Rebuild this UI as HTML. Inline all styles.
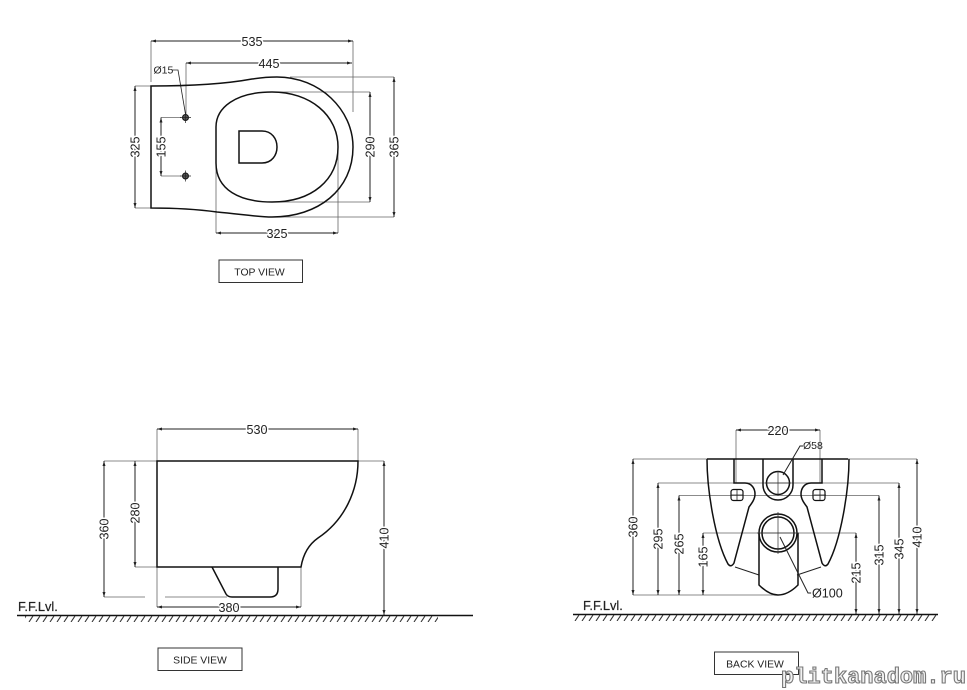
<!DOCTYPE html>
<html>
<head>
<meta charset="utf-8">
<style>
html,body{margin:0;padding:0;background:#fff;width:967px;height:690px;overflow:hidden}
svg{display:block}
text{font-family:"Liberation Sans",sans-serif;fill:#222}
.d{font-size:12.6px;text-anchor:middle;stroke:#fff;stroke-width:3px;paint-order:stroke;stroke-linejoin:round}
.s{font-size:10.500px}
.t{font-size:10.400px;text-anchor:middle}
.f{font-size:12.800px;stroke:#222;stroke-width:.2px}
.o{fill:none;stroke:#111;stroke-width:1.5}
.m{fill:none;stroke:#222;stroke-width:1}
.e{fill:none;stroke:#666;stroke-width:.8}
.b{fill:#fff;stroke:#333;stroke-width:1}
.w{font-family:"Liberation Mono",monospace;font-weight:bold;font-size:22px;fill:#f2f2f2;stroke:#777;stroke-width:1.100px}
.l{marker-start:url(#a);marker-end:url(#a)}
</style>
</head>
<body>
<svg width="967" height="690" viewBox="0 0 967 690" xmlns="http://www.w3.org/2000/svg">
<defs>
<marker id="a" viewBox="0 0 5 3" refX="5" refY="1.500" markerWidth="5" markerHeight="3" markerUnits="userSpaceOnUse" orient="auto-start-reverse"><path d="M0 0L5 1.500L0 3Z" fill="#222"/></marker>
<pattern id="h" width="7" height="6" patternUnits="userSpaceOnUse" x="0" y="616"><path d="M1 6L5 0" stroke="#333" stroke-width="1.100" fill="none"/></pattern>
<pattern id="h2" width="7" height="6" patternUnits="userSpaceOnUse" x="0" y="615"><path d="M1 6L5 0" stroke="#333" stroke-width="1.100" fill="none"/></pattern>
</defs>

<!-- TOP VIEW -->
<g class="e">
<path d="M151 41V82M353 41V112M186 63V117M135 86H151M161 117.500H181M161 176H181M277 92H370M272 202H370M290 77H394M272 217H394M216 147V233M338 147V233M135 208H151"/>
<path d="M172 70H178L186 117" stroke="#222"/>
</g>
<g class="m">
<path class="l" d="M151 41H353"/>
<path class="l" d="M186 63H352"/>
<path class="l" d="M135 86V208"/>
<path class="l" d="M161 117.500V176"/>
<path class="l" d="M370 92V202"/>
<path class="l" d="M394 77V217"/>
<path class="l" d="M216 233H338"/>
</g>
<path class="o" d="M151 86C190 86 225 84 252 79C262 77.500 270 77 277 77C320 77 353 110 353 147C353 190 318 217 272 217C258 217 240 214 217 212C195 209 175 208 151 208Z"/>
<path class="o" d="M216 127C216 108 235 92 272 92C310 92 338 115 338 147C338 180 312 202 272 202C240 202 216 190 216 163Z"/>
<path class="o" d="M239 131H262C272 131 277 139 277 147C277 155 272 163 262 163H239Z"/>
<g fill="#555" stroke="#111" stroke-width="1"><circle cx="185.500" cy="117.500" r="3"/><circle cx="185.500" cy="176" r="3"/></g>
<path d="M180 117.500H191M185.500 112V123M180 176H191M185.500 170.500V181.500" stroke="#222" stroke-width=".7"/>
<text class="d" x="252" y="46">535</text>
<text class="d" x="269" y="68">445</text>
<text class="s" x="153.500" y="73.500">Ø15</text>
<text class="d" transform="translate(135 147) rotate(-90)" y="4.500">325</text>
<text class="d" transform="translate(161 147) rotate(-90)" y="4.500">155</text>
<text class="d" transform="translate(370 147) rotate(-90)" y="4.500">290</text>
<text class="d" transform="translate(394 147) rotate(-90)" y="4.500">365</text>
<text class="d" x="277" y="238">325</text>
<rect class="b" x="219" y="260" width="83.500" height="22.500"/>
<text class="t" x="259.500" y="275.500">TOP VIEW</text>

<!-- SIDE VIEW -->
<g class="e">
<path d="M157 429V461M358 429V461M104 461H157M358 461H384M135 567H157M104 597H145M165 597H227M157 567V607M301 567V607"/>
</g>
<g class="m">
<path class="l" d="M157 429H358"/>
<path class="l" d="M104 461V597"/>
<path class="l" d="M135 461V567"/>
<path class="l" d="M384 461V615"/>
<path class="l" d="M157 607H301"/>
</g>
<path class="o" d="M157 461H358C358 490 345 520 318 538C308 545 303 555 301 567H157Z"/>
<path class="o" stroke-width="1.300" d="M212 567L226 594Q228 597 232 597H270Q278 597 278 589V567"/>
<path d="M17 615.500H473" stroke="#111" stroke-width="1.500"/>
<rect x="25" y="616" width="413" height="6" fill="url(#h)"/>
<text class="f" x="18" y="611">F.F.Lvl.</text>
<text class="d" x="257" y="434">530</text>
<text class="d" transform="translate(104 529) rotate(-90)" y="4.500">360</text>
<text class="d" transform="translate(135 513) rotate(-90)" y="4.500">280</text>
<text class="d" transform="translate(384 538) rotate(-90)" y="4.500">410</text>
<text class="d" x="229" y="612">380</text>
<rect class="b" x="158" y="648" width="84" height="22.500"/>
<text class="t" x="200" y="663.500">SIDE VIEW</text>

<!-- BACK VIEW -->
<g class="e">
<path d="M633 459H917M658 483H899M679 495.500H879M703 533H856M633 595H778"/>
<path d="M736 430V483M820 430V483"/>
</g>
<g class="m">
<path class="l" d="M736 430H820"/>
<path class="l" d="M633 459V595"/>
<path class="l" d="M658 483V595"/>
<path class="l" d="M679 495.500V595"/>
<path class="l" d="M703 533V595"/>
<path class="l" d="M856 533V614"/>
<path class="l" d="M879 495.500V614"/>
<path class="l" d="M899 483V614"/>
<path class="l" d="M917 459V614"/>
</g>
<path class="o" d="M707 459H848"/>
<g>
<path class="o" d="M707 459C707 490 715 540 728 564Q731 568 734 563L749 507C752 503 755 499 755 494C755 489 752 483 745 483H734V459"/>
<rect x="731" y="489.500" width="12" height="11" rx="2.500" fill="none" stroke="#111" stroke-width="1.200"/>
<path class="m" d="M735 567L759 575"/>
</g>
<g transform="translate(1556 0) scale(-1 1)">
<path class="o" d="M707 459C707 490 715 540 728 564Q731 568 734 563L749 507C752 503 755 499 755 494C755 489 752 483 745 483H734V459"/>
<rect x="731" y="489.500" width="12" height="11" rx="2.500" fill="none" stroke="#111" stroke-width="1.200"/>
<path class="m" d="M735 567L759 575"/>
</g>
<path class="o" d="M763 459V485A15 15 0 0 0 793 485V459"/>
<circle class="o" cx="778" cy="483" r="11.500"/>
<circle class="o" cx="778" cy="533" r="19"/>
<circle class="o" stroke-width="1.100" cx="778" cy="533" r="16"/>
<path class="o" stroke-width="1.200" d="M759 533V585C766 592 772 595 778 595C785 595 791 592 798 585V533"/>
<path d="M778 471V496M765 483H791M778 512V554M757 533H799" stroke="#333" stroke-width=".7" fill="none"/>
<path d="M731 495H743M737 490V500M814 495H826M820 490V500" stroke="#222" stroke-width=".8"/>
<path class="m" d="M783 475L800 446H803"/>
<path class="m" d="M780 537L808 593H812"/>
<text class="d" x="778" y="435">220</text>
<text class="s" x="803" y="449">Ø58</text>
<text class="d" style="text-anchor:start" x="812" y="597.500">Ø100</text>
<text class="d" transform="translate(633 527) rotate(-90)" y="4.500">360</text>
<text class="d" transform="translate(658 539) rotate(-90)" y="4.500">295</text>
<text class="d" transform="translate(679 544) rotate(-90)" y="4.500">265</text>
<text class="d" transform="translate(703 557) rotate(-90)" y="4.500">165</text>
<text class="d" transform="translate(856 573) rotate(-90)" y="4.500">215</text>
<text class="d" transform="translate(879 555) rotate(-90)" y="4.500">315</text>
<text class="d" transform="translate(899 549) rotate(-90)" y="4.500">345</text>
<text class="d" transform="translate(917 537) rotate(-90)" y="4.500">410</text>
<path d="M573 614.500H938" stroke="#111" stroke-width="1.500"/>
<rect x="574" y="615" width="364" height="6" fill="url(#h2)"/>
<text class="f" x="583" y="610">F.F.Lvl.</text>
<rect class="b" x="714.500" y="652" width="84" height="22.500"/>
<text class="t" x="755" y="667.500">BACK VIEW</text>

<text class="w" x="781" y="683" textLength="185" lengthAdjust="spacingAndGlyphs">plitkanadom.ru</text>
</svg>
</body>
</html>
